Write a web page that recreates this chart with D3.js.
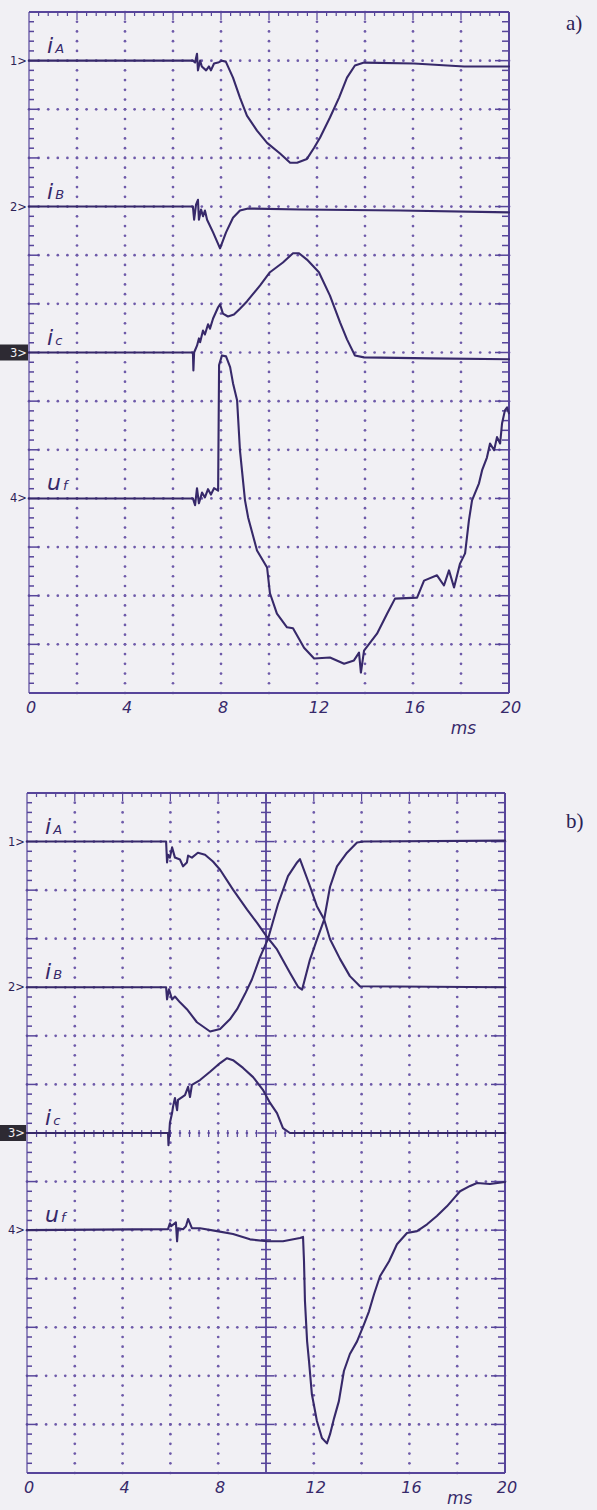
<!DOCTYPE html>
<html>
<head>
<meta charset="utf-8">
<script src="https://cdn.jsdelivr.net/npm/d3@7"></script>
<style>
  html, body { margin: 0; padding: 0; background: #f1f0f4; }
  svg { display: block; }
</style>
</head>
<body>
<svg id="chart" width="597" height="1510"></svg>
<script>
// ── Data: time in ms, value in screen divisions above the channel marker ──
const TICK_MS = [0, 4, 8, 12, 16, 20];
const CHANNELS = ["1", "2", "3", "4"];
const TRACE_NAMES = [["i", "A"], ["i", "B"], ["i", "c"], ["u", "f"]];

// panel a)
const a_iA = [[0,0],[6.83,0],[6.92,-0.04],[7.0,0.14],[7.04,-0.2],[7.13,0],[7.2,-0.12],[7.38,-0.2],[7.5,-0.12],
  [7.58,-0.2],[7.71,-0.06],[7.88,-0.04],[8.04,0],[8.2,-0.02],[8.5,-0.35],[8.79,-0.76],[9.08,-1.13],[9.5,-1.44],
  [9.92,-1.69],[10.46,-1.91],[10.88,-2.1],[11.17,-2.1],[11.58,-2.02],[11.88,-1.79],[12.13,-1.58],[12.54,-1.17],
  [12.92,-0.76],[13.25,-0.35],[13.58,-0.1],[13.96,-0.04],[16.04,-0.06],[18.13,-0.12],[20,-0.12]];
const a_iB = [[0,0],[6.83,0],[6.88,-0.27],[6.96,0.04],[7.04,0.14],[7.08,-0.27],[7.17,-0.06],[7.25,-0.2],
  [7.33,-0.08],[7.42,-0.27],[7.67,-0.53],[7.96,-0.86],[8.21,-0.53],[8.5,-0.23],[8.79,-0.08],[9.13,-0.04],
  [11.3,-0.06],[15.46,-0.08],[20,-0.12]];
const a_iC = [[0,0],[6.83,0],[6.85,-0.37],[6.88,0],[7.0,0.14],[7.08,0.29],[7.13,0.21],[7.25,0.45],[7.33,0.37],
  [7.46,0.58],[7.54,0.49],[7.67,0.7],[7.88,0.93],[7.96,0.99],[8.08,0.8],[8.29,0.74],[8.54,0.78],[8.79,0.9],
  [9.08,1.05],[9.63,1.38],[10.04,1.65],[10.58,1.85],[11.0,2.04],[11.25,2.04],[11.58,1.91],[12.08,1.65],
  [12.54,1.17],[12.96,0.62],[13.25,0.27],[13.58,-0.06],[13.96,-0.1],[16.71,-0.12],[20,-0.14]];
const a_uf = [[0,0],[6.83,0],[6.92,-0.14],[7.0,0.21],[7.08,-0.1],[7.21,0.12],[7.33,0.02],[7.46,0.19],[7.58,0.08],
  [7.71,0.21],[7.88,0.16],[7.92,2.74],[8.04,2.94],[8.21,2.92],[8.38,2.7],[8.5,2.37],[8.67,2.02],[8.79,0.99],
  [9.0,-0.04],[9.13,-0.39],[9.5,-1.07],[9.92,-1.42],[10.04,-1.95],[10.33,-2.37],[10.75,-2.65],[11.0,-2.67],
  [11.29,-2.92],[11.46,-3.07],[11.88,-3.29],[12.54,-3.27],[13.13,-3.4],[13.54,-3.33],[13.75,-3.17],[13.83,-3.58],
  [13.96,-3.13],[14.5,-2.78],[14.92,-2.37],[15.25,-2.06],[16.17,-2.04],[16.46,-1.69],[17.0,-1.58],[17.29,-1.79],
  [17.5,-1.48],[17.71,-1.83],[17.96,-1.34],[18.17,-1.13],[18.33,-0.45],[18.46,-0.04],[18.75,0.31],[18.88,0.58],
  [19.08,0.84],[19.21,1.13],[19.38,0.99],[19.5,1.26],[19.63,1.13],[19.71,1.54],[19.83,1.81],[19.92,1.87],[20,1.75]];

// panel b)
const b_iA = [[0,0],[5.82,0],[5.86,-0.43],[5.9,-0.27],[5.98,-0.33],[6.07,-0.12],[6.19,-0.33],[6.4,-0.37],
  [6.53,-0.51],[6.69,-0.43],[6.74,-0.29],[6.9,-0.33],[7.15,-0.23],[7.45,-0.27],[7.78,-0.41],[8.08,-0.58],
  [8.62,-0.99],[9.21,-1.4],[9.62,-1.67],[10.04,-1.96],[10.46,-2.22],[11.0,-2.7],[11.34,-2.99],[11.51,-3.05],
  [11.84,-2.43],[12.13,-2.02],[12.43,-1.61],[12.68,-0.93],[12.97,-0.51],[13.39,-0.23],[13.81,-0.02],[14.1,0],[20,0.02]];
const b_iB = [[0,0],[5.82,0],[5.86,-0.25],[5.94,-0.04],[6.07,-0.25],[6.19,-0.19],[6.4,-0.31],[6.69,-0.45],
  [7.11,-0.72],[7.66,-0.91],[8.08,-0.86],[8.49,-0.66],[8.79,-0.45],[9.12,-0.14],[9.41,0.16],[9.75,0.62],
  [10.08,0.99],[10.5,1.71],[10.92,2.29],[11.3,2.57],[11.42,2.64],[11.84,2.08],[12.13,1.67],[12.43,1.4],
  [12.68,0.99],[13.1,0.58],[13.51,0.23],[13.93,0.02],[20,0]];
const b_iC = [[0,0],[5.9,0],[5.92,-0.25],[5.98,0.21],[6.07,0.41],[6.11,0.54],[6.19,0.72],[6.28,0.47],[6.32,0.68],
  [6.49,0.74],[6.61,0.78],[6.74,0.95],[6.82,0.74],[6.9,0.99],[7.24,1.09],[7.66,1.26],[8.08,1.44],[8.37,1.54],
  [8.62,1.5],[9.04,1.34],[9.46,1.15],[9.87,0.89],[10.17,0.62],[10.46,0.41],[10.71,0.1],[11.0,0],[20,0]];
const b_uf = [[0,0],[5.9,0.02],[5.98,0.14],[6.03,0.08],[6.23,0.16],[6.28,-0.23],[6.32,0.04],[6.53,0.02],
  [6.65,0.08],[6.74,0.23],[6.9,0.04],[7.24,0.04],[7.95,-0.02],[8.62,-0.08],[9.33,-0.19],[10.04,-0.23],
  [10.71,-0.23],[11.42,-0.16],[11.55,-0.14],[11.59,-0.64],[11.63,-1.46],[11.72,-2.29],[11.8,-2.7],[11.92,-3.38],
  [12.13,-3.93],[12.34,-4.28],[12.55,-4.39],[12.68,-4.2],[12.85,-3.87],[13.05,-3.52],[13.26,-2.9],[13.51,-2.55],
  [13.81,-2.29],[14.1,-1.94],[14.31,-1.67],[14.52,-1.32],[14.77,-0.95],[15.15,-0.64],[15.48,-0.29],[15.9,-0.06],
  [16.32,-0.02],[16.74,0.12],[17.15,0.29],[17.57,0.49],[17.87,0.66],[18.12,0.8],[18.54,0.91],[18.83,0.97],
  [19.37,0.95],[20,0.99]];

// ── Layout ────────────────────────────────────────────────────────────
const TRACE = "#37296a", GRID = "#6e5aa9", FRAME = "#57459a";

const panels = [
  { tag: "a)", x0: 29, x1: 509, y0: 12, y1: 693, offsets: [6, 3, 0, -3],
    traces: [a_iA, a_iB, a_iC, a_uf], crosshair: false, tagY: 30, msY: 734 },
  { tag: "b)", x0: 27, x1: 505, y0: 793, y1: 1473, offsets: [6, 3, 0, -2],
    traces: [b_iA, b_iB, b_iC, b_uf], crosshair: true, tagY: 828, msY: 1504 }
];

const svg = d3.select("#chart");
svg.append("rect").attr("width", 597).attr("height", 1510).attr("fill", "#f1f0f4");

panels.forEach(p => {
  const x = d3.scaleLinear().domain([0, 20]).range([p.x0, p.x1]);
  const y = d3.scaleLinear().domain([-7, 7]).range([p.y1, p.y0]);
  const g = svg.append("g");

  // ── dotted graticule ──
  const vCols = d3.range(2, 20, 2).filter(t => !(p.crosshair && t === 10));
  const vDots = [];
  vCols.forEach(t => d3.range(0, 71).forEach(j => vDots.push([x(t), y(-7 + j / 5)])));
  const hDots = [];
  d3.range(-6, 7).forEach(v => d3.range(0, 51).forEach(i => hDots.push([x(i * 0.4), y(v)])));
  g.selectAll("circle.dot")
    .data(vDots.concat(hDots))
    .enter().append("circle")
    .attr("class", "dot")
    .attr("cx", d => d[0]).attr("cy", d => d[1]).attr("r", 1.35)
    .attr("fill", GRID);

  // ── frame ──
  const frame = g.append("g").attr("stroke", FRAME).attr("fill", "none");
  frame.append("line").attr("x1", p.x0).attr("x2", p.x1).attr("y1", p.y0).attr("y2", p.y0).attr("stroke-width", 2);
  frame.append("line").attr("x1", p.x0).attr("x2", p.x1).attr("y1", p.y1).attr("y2", p.y1).attr("stroke-width", 2.2);
  frame.append("line").attr("x1", p.x0).attr("x2", p.x0).attr("y1", p.y0).attr("y2", p.y1).attr("stroke-width", 1.2);
  frame.append("line").attr("x1", p.x1).attr("x2", p.x1).attr("y1", p.y0).attr("y2", p.y1).attr("stroke-width", 2);

  const sub = d3.range(0, 71).map(j => -7 + j / 5);
  // left ticks
  frame.selectAll("line.lt").data(sub.slice(1, -1)).enter().append("line")
    .attr("x1", p.x0).attr("x2", (d, i) => p.x0 + ((i + 1) % 5 === 0 ? 10 : 5))
    .attr("y1", d => y(d)).attr("y2", d => y(d)).attr("stroke-width", 1.5);
  // right ticks
  frame.selectAll("line.rt").data(sub.slice(1, -1)).enter().append("line")
    .attr("x1", p.x1).attr("x2", (d, i) => p.x1 - ((i + 1) % 5 === 0 ? 14 : 7))
    .attr("y1", d => y(d)).attr("y2", d => y(d)).attr("stroke-width", 1.5);
  // top ticks
  const subX = d3.range(1, 50).map(i => i * 0.4);
  frame.selectAll("line.tt").data(subX).enter().append("line")
    .attr("x1", d => x(d)).attr("x2", d => x(d))
    .attr("y1", p.y0).attr("y2", (d, i) => p.y0 + ((i + 1) % 5 === 0 ? 8 : 4)).attr("stroke-width", 1.2);

  // ── centre crosshair (panel b) ──
  if (p.crosshair) {
    frame.append("line").attr("x1", x(10)).attr("x2", x(10)).attr("y1", p.y0).attr("y2", p.y1).attr("stroke-width", 1.8);
    frame.selectAll("line.ct").data(sub.slice(1, -1)).enter().append("line")
      .attr("x1", (d, i) => x(10) - ((i + 1) % 5 === 0 ? 8 : 5))
      .attr("x2", (d, i) => x(10) + ((i + 1) % 5 === 0 ? 8 : 5))
      .attr("y1", d => y(d)).attr("y2", d => y(d)).attr("stroke-width", 1.5);
    frame.selectAll("line.ht").data(subX).enter().append("line")
      .attr("x1", d => x(d)).attr("x2", d => x(d))
      .attr("y1", y(0) - 3).attr("y2", y(0) + 4).attr("stroke-width", 1.2);
  }

  // ── traces ──
  p.traces.forEach((data, k) => {
    const off = p.offsets[k];
    const line = d3.line().x(d => x(d[0])).y(d => y(off + d[1]));
    g.append("path").datum(data)
      .attr("d", line)
      .attr("fill", "none").attr("stroke", TRACE)
      .attr("stroke-width", 2.1).attr("stroke-linejoin", "round").attr("stroke-linecap", "round");
  });

  // ── channel markers and trace names ──
  CHANNELS.forEach((c, k) => {
    const yy = y(p.offsets[k]);
    if (c === "3") {
      g.append("rect").attr("x", 0).attr("y", yy - 8).attr("width", p.x0 - 1).attr("height", 16).attr("fill", "#2d2a33");
    }
    g.append("text")
      .attr("x", p.x0 - 2).attr("y", yy + 4)
      .attr("text-anchor", "end")
      .attr("font-family", "DejaVu Sans, sans-serif").attr("font-size", 11.5)
      .attr("fill", c === "3" ? "#f1f0f4" : "#2c2255")
      .text(c + ">");

    const nm = TRACE_NAMES[k];
    const t = g.append("text")
      .attr("x", p.x0 + 18).attr("y", yy - 8)
      .attr("font-family", "DejaVu Sans, sans-serif").attr("font-style", "italic")
      .attr("fill", TRACE);
    t.append("tspan").attr("font-size", 22).text(nm[0]);
    t.append("tspan").attr("font-size", 13).attr("dx", 2).text(nm[1]);
  });

  // ── time axis labels ──
  g.selectAll("text.tick").data(TICK_MS).enter().append("text")
    .attr("class", "tick")
    .attr("x", d => x(d) + 2).attr("y", p.y1 + 20)
    .attr("text-anchor", "middle")
    .attr("font-family", "DejaVu Sans, sans-serif").attr("font-style", "italic").attr("font-size", 16)
    .attr("fill", TRACE)
    .text(d => d);
  g.append("text")
    .attr("x", x(18.1)).attr("y", p.msY)
    .attr("text-anchor", "middle")
    .attr("font-family", "DejaVu Sans, sans-serif").attr("font-style", "italic").attr("font-size", 17)
    .attr("fill", TRACE)
    .text("ms");

  g.append("text")
    .attr("x", 566).attr("y", p.tagY)
    .attr("font-family", "Liberation Serif, serif").attr("font-size", 21)
    .attr("fill", "#2c2255")
    .text(p.tag);
});
</script>
</body>
</html>
